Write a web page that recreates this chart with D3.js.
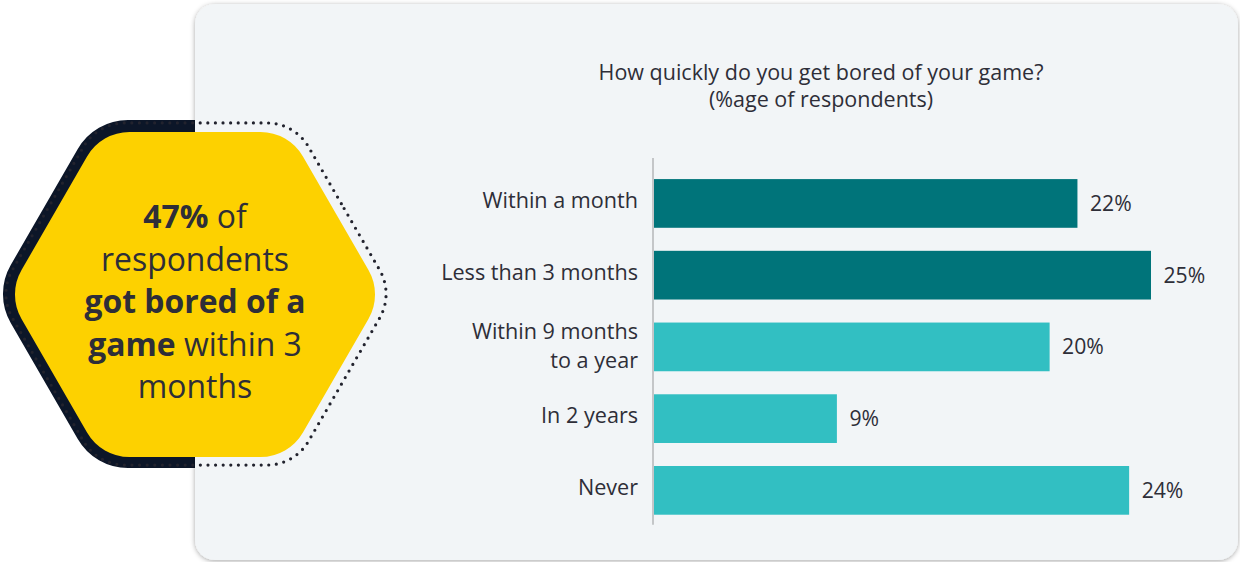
<!DOCTYPE html>
<html>
<head>
<meta charset="utf-8">
<script src="https://cdn.jsdelivr.net/npm/d3@7"></script>
<style>
  html, body { margin: 0; padding: 0; background: #ffffff; }
  svg { display: block; }
  text { font-family: "Open Sans", sans-serif; }
</style>
</head>
<body>
<svg id="chart" width="1240" height="562"></svg>
<script>
// ---- data ----
const categories = ["Within a month", "Less than 3 months", "Within 9 months to a year", "In 2 years", "Never"];
const categoryLines = [["Within a month"], ["Less than 3 months"], ["Within 9 months", "to a year"], ["In 2 years"], ["Never"]];
const values = [21.3, 25.0, 19.9, 9.2, 23.9];
const valueLabels = ["22%", "25%", "20%", "9%", "24%"];
const barGroup = ["dark", "dark", "light", "light", "light"];
const titleLines = ["How quickly do you get bored of your game?", "(%age of respondents)"];
const calloutLines = [
  [{t: "47%", b: true}, {t: " of", b: false}],
  [{t: "respondents", b: false}],
  [{t: "got bored of a", b: true}],
  [{t: "game", b: true}, {t: " within 3", b: false}],
  [{t: "months", b: false}]
];

const svg = d3.select("#chart");
const defs = svg.append("defs");
const f = defs.append("filter").attr("id", "shadow").attr("x", "-5%").attr("y", "-5%").attr("width", "110%").attr("height", "110%");
f.append("feDropShadow").attr("dx", 0).attr("dy", 1).attr("stdDeviation", 2.4)
  .attr("flood-color", "#000").attr("flood-opacity", 0.35);

function roundedHex(cx, cy, R, rc) {
  const v = d3.range(6).map(i => {
    const a = i * Math.PI / 3;
    return [cx + R * Math.cos(a), cy + R * Math.sin(a)];
  });
  const p = d3.path();
  const m = [(v[5][0] + v[0][0]) / 2, (v[5][1] + v[0][1]) / 2];
  p.moveTo(m[0], m[1]);
  for (let i = 0; i < 6; i++) {
    const a = v[i], b = v[(i + 1) % 6];
    p.arcTo(a[0], a[1], b[0], b[1], rc);
  }
  p.closePath();
  return p.toString();
}

// outer dark hexagon
svg.append("path").attr("d", roundedHex(195, 294, 201, 58)).attr("fill", "#0c1628");

// panel
svg.append("rect").attr("x", 195).attr("y", 4).attr("width", 1043).attr("height", 556)
  .attr("rx", 20).attr("fill", "#f2f5f7").attr("filter", "url(#shadow)");

// dotted outline
svg.append("path").attr("d", roundedHex(196, 294, 197.5, 48))
  .attr("fill", "none").attr("stroke", "#22232e").attr("stroke-width", 3.2)
  .attr("stroke-linecap", "round").attr("stroke-dasharray", "0 7.6");

// yellow hexagon
svg.append("path").attr("d", roundedHex(195, 294.5, 187.6, 49)).attr("fill", "#fdd100");

// callout text
const ct = svg.append("g").attr("fill", "#2e2e38").attr("font-size", 31.9).attr("text-anchor", "middle");
calloutLines.forEach((line, i) => {
  const t = ct.append("text").attr("x", 195).attr("y", 228 + i * 42.6);
  line.forEach(s => t.append("tspan").attr("font-weight", s.b ? 700 : 400).text(s.t));
});

// title
const tt = svg.append("g").attr("fill", "#2e2e38").attr("font-size", 21.5).attr("text-anchor", "middle");
titleLines.forEach((l, i) => tt.append("text").attr("x", 821).attr("y", 80 + i * 27).text(l));

// scales
const x = d3.scaleLinear().domain([0, 25]).range([654, 1151]);
const y = d3.scaleBand().domain(categories).range([159, 534.8]).paddingInner(0.321).paddingOuter(0.28);
const color = d3.scaleOrdinal().domain(["dark", "light"]).range(["#00747a", "#32bfc2"]);

// bars
svg.append("g").selectAll("rect").data(categories).join("rect")
  .attr("x", x(0)).attr("y", d => y(d))
  .attr("width", (d, i) => x(values[i]) - x(0))
  .attr("height", y.bandwidth())
  .attr("fill", (d, i) => color(barGroup[i]));

// axis line
svg.append("line").attr("x1", x(0) - 1).attr("x2", x(0) - 1)
  .attr("y1", 158).attr("y2", y.range()[1] - 10)
  .attr("stroke", "#b4b6b8").attr("stroke-width", 1.5);

// category labels
const cl = svg.append("g").attr("fill", "#2e2e38").attr("font-size", 21.6).attr("text-anchor", "end");
categories.forEach((c, i) => {
  const lines = categoryLines[i];
  const cy = y(c) + y.bandwidth() / 2 - 3;
  const t = cl.append("text").attr("x", 638).attr("y", cy);
  lines.forEach((l, j) => {
    t.append("tspan").attr("x", 638)
      .attr("y", cy + (j - (lines.length - 1) / 2) * 29 + (lines.length > 1 ? 2 : 0))
      .attr("dy", "0.35em").text(l);
  });
});

// value labels
svg.append("g").attr("fill", "#2e2e38").attr("font-size", 21.2)
  .selectAll("text").data(categories).join("text")
  .attr("x", (d, i) => x(values[i]) + 12.5)
  .attr("y", d => y(d) + y.bandwidth() / 2)
  .attr("dy", "0.35em")
  .text((d, i) => valueLabels[i]);
</script>
</body>
</html>
